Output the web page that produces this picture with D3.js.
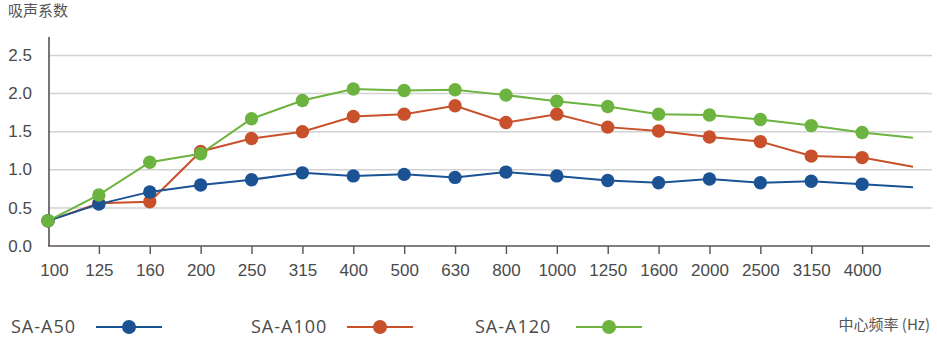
<!DOCTYPE html>
<html>
<head>
<meta charset="utf-8">
<script src="https://cdn.jsdelivr.net/npm/d3@7"></script>
<style>
  html, body { margin: 0; padding: 0; background: #fff; }
  svg { display: block; }
</style>
</head>
<body>
<svg id="chart" width="937" height="341"></svg>
<script>
// ---- data ----
const frequencies = ["100","125","160","200","250","315","400","500","630","800","1000","1250","1600","2000","2500","3150","4000","5000"];
const tickLabels = ["100","125","160","200","250","315","400","500","630","800","1000","1250","1600","2000","2500","3150","4000"];
const yTicks = [0, 0.5, 1.0, 1.5, 2.0, 2.5];
const seriesNames = ["SA-A50", "SA-A100", "SA-A120"];
const saA50  = [0.33,0.55,0.71,0.80,0.87,0.96,0.92,0.94,0.90,0.97,0.92,0.86,0.83,0.88,0.83,0.85,0.81,0.77];
const saA100 = [0.33,0.56,0.58,1.24,1.41,1.50,1.70,1.73,1.84,1.62,1.73,1.56,1.51,1.43,1.37,1.18,1.16,1.04];
const saA120 = [0.33,0.67,1.10,1.21,1.67,1.91,2.06,2.04,2.05,1.98,1.90,1.83,1.73,1.72,1.66,1.58,1.49,1.42];
const seriesColors = ["#1a5294", "#c8502b", "#6cb33f"];
const yTitle = "吸声系数";
const xTitle = "中心频率 (Hz)";

// ---- layout ----
const svg = d3.select("#chart");
const x = d3.scalePoint().domain(frequencies).range([48, 913]);
const y = d3.scaleLinear().domain([0, 2.5]).range([246, 55.5]);
const axisColor = "#5a524f";
const textColor = "#4a4a4a";
const latin = "'Liberation Sans', Arial, Helvetica, sans-serif";
const cjk = "'Noto Sans CJK SC', 'Noto Sans', sans-serif";

// gridlines
svg.append("g").selectAll("line")
  .data(yTicks.filter(d => d > 0))
  .join("line")
  .attr("x1", 49).attr("x2", 932)
  .attr("y1", d => y(d)).attr("y2", d => y(d))
  .attr("stroke", "#d2d2d2").attr("stroke-width", 1.5);

// y axis labels
const yAxis = svg.append("g").attr("transform", "translate(49,0)")
  .call(d3.axisLeft(y).tickValues(yTicks).tickSize(0).tickPadding(17).tickFormat(d3.format(".1f")));
yAxis.select(".domain").remove();
yAxis.selectAll("text").attr("font-family", latin).attr("font-size", 17).attr("fill", textColor).attr("dy", "0.3em");

// y axis line
svg.append("line").attr("x1", 49).attr("x2", 49).attr("y1", 37).attr("y2", y(0))
  .attr("stroke", axisColor).attr("stroke-width", 1.6);

// x axis
const xAxis = svg.append("g").attr("transform", `translate(0,${y(0)})`)
  .call(d3.axisBottom(x).tickValues(tickLabels).tickSize(8).tickPadding(10));
xAxis.select(".domain").remove();
xAxis.selectAll(".tick line").attr("stroke", axisColor).attr("stroke-width", 1.4);
xAxis.selectAll(".tick").filter(d => d === tickLabels[0]).select("line").remove();
xAxis.selectAll("text").attr("font-family", latin).attr("font-size", 17).attr("fill", textColor);
xAxis.selectAll(".tick").filter(d => d === tickLabels[0]).select("text").attr("dx", 6);
svg.append("line").attr("x1", 48).attr("x2", 930).attr("y1", y(0)).attr("y2", y(0))
  .attr("stroke", axisColor).attr("stroke-width", 1.6);

// series
const allSeries = [saA50, saA100, saA120];
const drawOrder = [1, 0, 2];
const line = d3.line().x((d, i) => x(frequencies[i])).y(d => y(d));
drawOrder.forEach(si => {
  const vals = allSeries[si];
  const g = svg.append("g");
  g.append("path").datum(vals).attr("d", line)
    .attr("fill", "none").attr("stroke", seriesColors[si]).attr("stroke-width", 2);
  g.selectAll("circle").data(vals.slice(0, tickLabels.length)).join("circle")
    .attr("cx", (d, i) => x(frequencies[i])).attr("cy", d => y(d))
    .attr("r", 6.7).attr("fill", seriesColors[si]);
});

// y title
svg.append("text").attr("x", 8).attr("y", 16).text(yTitle)
  .attr("font-family", cjk).attr("font-size", 15).attr("fill", "#555");

// legend
const legendX = [11, 251, 475];
const legendSymX = [96, 347, 576];
const legendY = 327;
seriesNames.forEach((name, i) => {
  svg.append("text").attr("x", legendX[i]).attr("y", 333).text(name)
    .attr("font-family", "'Open Sans', sans-serif").attr("font-size", 18)
    .attr("letter-spacing", 1).attr("fill", textColor);
  svg.append("line").attr("x1", legendSymX[i]).attr("x2", legendSymX[i] + 66)
    .attr("y1", legendY).attr("y2", legendY)
    .attr("stroke", seriesColors[i]).attr("stroke-width", 2);
  svg.append("circle").attr("cx", legendSymX[i] + 33).attr("cy", legendY).attr("r", 7)
    .attr("fill", seriesColors[i]);
});

// x title
svg.append("text").attr("x", 930).attr("y", 330).attr("text-anchor", "end").text(xTitle)
  .attr("font-family", cjk).attr("font-size", 15).attr("fill", "#555");
</script>
</body>
</html>
